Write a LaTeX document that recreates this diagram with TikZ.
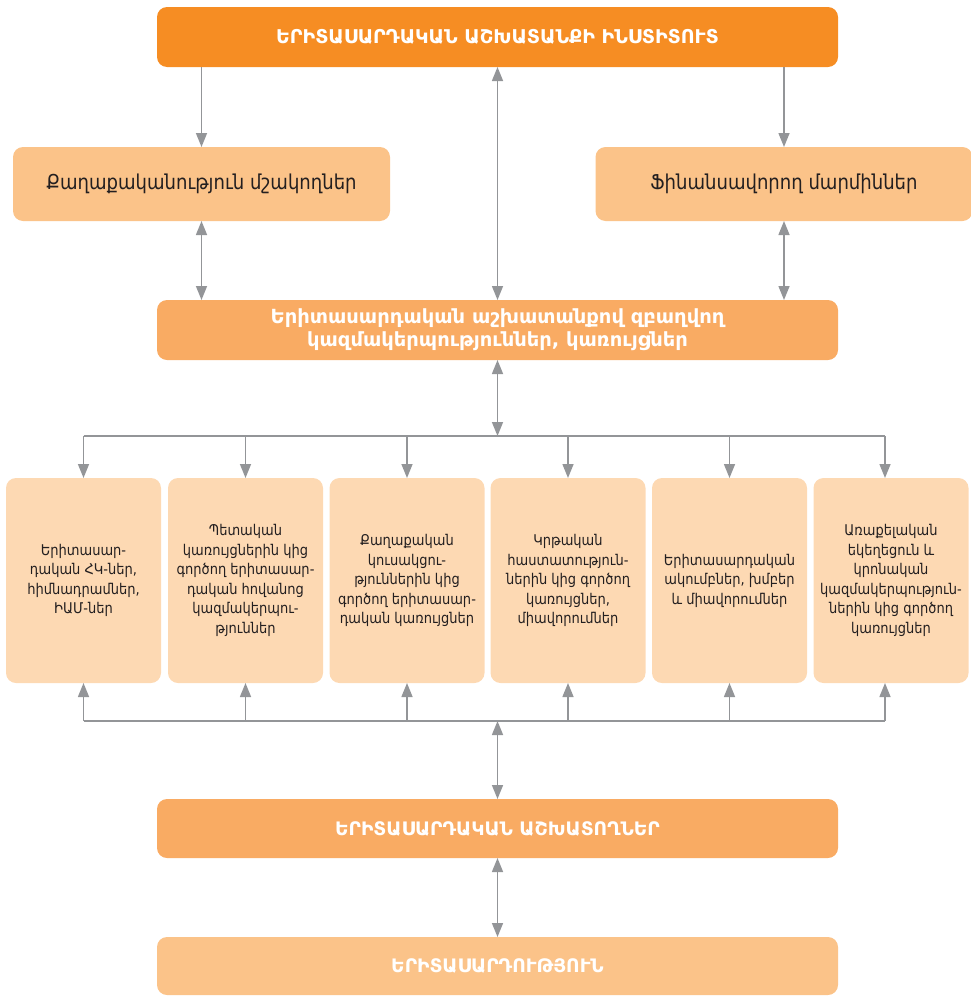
\documentclass[tikz,border=0pt]{standalone}
\usepackage{fontspec}
\setmainfont{DejaVu Sans}
\newfontfamily\narrowfont[FakeStretch=0.88]{DejaVu Sans}
\usetikzlibrary{arrows.meta}
\definecolor{orgA}{HTML}{F68D23}
\definecolor{orgB}{HTML}{F9AB63}
\definecolor{orgC}{HTML}{FBC389}
\definecolor{orgD}{HTML}{FDD9B3}
\definecolor{arrc}{HTML}{939598}
\definecolor{txtc}{HTML}{231F20}
\begin{document}
\begin{tikzpicture}[x=1pt,y=-1pt,
  box/.style={rounded corners=10pt,inner sep=0pt,outer sep=0pt,align=center},
  headbox/.style={box,fill=orgA,text=white,font=\fontsize{19}{23}\selectfont\bfseries,minimum width=681pt,minimum height=60pt},
  midbox/.style={box,fill=orgB,text=white,font=\fontsize{19.5}{23}\selectfont\bfseries,minimum width=681pt,minimum height=60pt},
  sidebox/.style={box,fill=orgC,text=txtc,font=\narrowfont\fontsize{20.5}{24}\selectfont,minimum width=377pt,minimum height=74pt},
  smallbox/.style={box,fill=orgD,text=txtc,font=\narrowfont\fontsize{14.8}{19.5}\selectfont,minimum width=155pt,minimum height=205pt},
  conn/.style={draw=arrc,line width=1.5pt,-{Triangle[length=14pt,width=11pt]}},
  conn2/.style={draw=arrc,line width=1.5pt,{Triangle[length=14pt,width=11pt]}-{Triangle[length=14pt,width=11pt]}},
  busline/.style={draw=arrc,line width=1.5pt}]
\useasboundingbox (0,0) rectangle (970,996);

\node[headbox] (inst) at (497.5,37) {ԵՐԻՏԱՍԱՐԴԱԿԱՆ ԱՇԽԱՏԱՆՔԻ ԻՆՍՏԻՏՈՒՏ};
\node[sidebox] (pol) at (201.5,184) {Քաղաքականություն մշակողներ};
\node[sidebox] (fin) at (784,184) {Ֆինանսավորող մարմիններ};
\node[midbox] (org) at (497.5,330) {Երիտասարդական աշխատանքով զբաղվող\\կազմակերպություններ, կառույցներ};

\node[smallbox] (b1) at (83.5,580.5) {Երիտասար-\\դական ՀԿ-ներ,\\հիմնադրամներ,\\ԻԱՄ-ներ};
\node[smallbox] (b2) at (245.5,580.5) {Պետական\\կառույցներին կից\\գործող երիտասար-\\դական հովանոց\\կազմակերպու-\\թյուններ};
\node[smallbox] (b3) at (407,580.5) {Քաղաքական\\կուսակցու-\\թյուններին կից\\գործող երիտասար-\\դական կառույցներ};
\node[smallbox] (b4) at (568,580.5) {Կրթական\\հաստատություն-\\ներին կից գործող\\կառույցներ,\\միավորումներ};
\node[smallbox] (b5) at (729.5,580.5) {Երիտասարդական\\ակումբներ, խմբեր\\և միավորումներ};
\node[smallbox] (b6) at (891,580.5) {Առաքելական\\եկեղեցուն և\\կրոնական\\կազմակերպություն-\\ներին կից գործող\\կառույցներ};

\node[midbox,font=\fontsize{18.6}{22}\selectfont\bfseries,minimum height=59pt] (work) at (497.5,828.5) {ԵՐԻՏԱՍԱՐԴԱԿԱՆ ԱՇԽԱՏՈՂՆԵՐ};
\node[headbox,fill=orgC,font=\fontsize{18.6}{22}\selectfont\bfseries,minimum height=58pt] (youth) at (497.5,966) {ԵՐԻՏԱՍԱՐԴՈՒԹՅՈՒՆ};

% top connectors
\draw[conn] (pol.north |- inst.south) -- (pol.north);
\draw[conn] (fin.north |- inst.south) -- (fin.north);
\draw[conn2] (inst.south) -- (org.north);
\draw[conn2] (pol.south) -- (pol.south |- org.north);
\draw[conn2] (fin.south) -- (fin.south |- org.north);

% upper bus
\coordinate (busA) at (497.5,436);
\draw[conn2] (org.south) -- (busA);
\draw[busline] (b1.north |- busA) -- ([xshift=-6pt]b6.north |- busA);
\foreach \b in {b1,b2,b3,b4,b5}{\draw[conn] (\b.north |- busA) -- (\b.north);}
\draw[conn] ([xshift=-6pt]b6.north |- busA) -- ([xshift=-6pt]b6.north);

% lower bus
\coordinate (busB) at (497.5,721);
\draw[conn2] (busB) -- (work.north);
\draw[busline] (b1.south |- busB) -- ([xshift=-6pt]b6.south |- busB);
\foreach \b in {b1,b2,b3,b4,b5}{\draw[conn] (\b.south |- busB) -- (\b.south);}
\draw[conn] ([xshift=-6pt]b6.south |- busB) -- ([xshift=-6pt]b6.south);

\draw[conn2] (work.south) -- (youth.north);
\end{tikzpicture}
\end{document}
